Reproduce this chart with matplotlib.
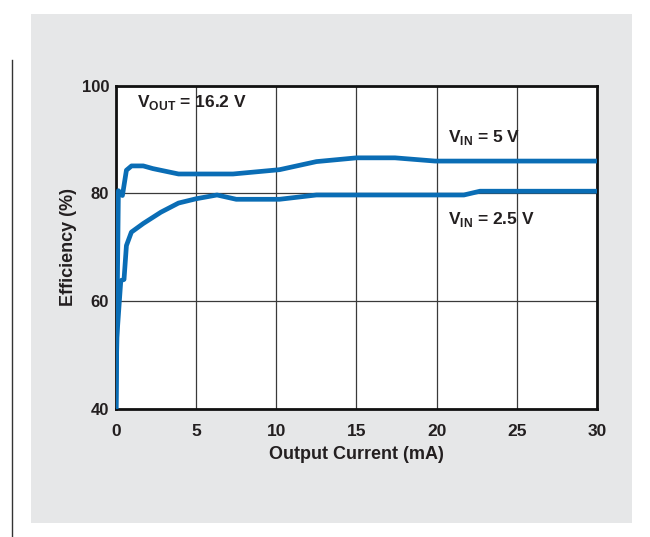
import matplotlib
matplotlib.use('Agg')
import matplotlib.pyplot as plt
from matplotlib import font_manager
from matplotlib.patches import Rectangle
from matplotlib.lines import Line2D

# data
current_5v = [0, 0.05, 0.15, 0.4, 0.65, 0.97, 1.7, 2.3, 3.9, 7.3, 10.2, 12.5, 15.0, 17.4, 19.9, 30]
eff_5v = [40, 53.2, 80.5, 79.6, 84.3, 85.1, 85.1, 84.6, 83.6, 83.6, 84.4, 85.9, 86.6, 86.6, 86.0, 86.0]

current_2v5 = [0, 0.05, 0.3, 0.5, 0.65, 0.96, 1.7, 2.8, 3.9, 5.0, 6.3, 7.5, 10.2, 12.5, 21.7, 22.7, 30]
eff_2v5 = [40, 53.2, 63.8, 64.0, 70.3, 72.8, 74.4, 76.5, 78.2, 79.0, 79.7, 78.9, 78.9, 79.7, 79.7, 80.4, 80.4]

xticks = [0, 5, 10, 15, 20, 25, 30]
yticks = [40, 60, 80, 100]

# pick a narrow bold face if one is around
names = {f.name for f in font_manager.fontManager.ttflist}
if 'Liberation Sans Narrow' in names:
    face = 'Liberation Sans Narrow'
elif 'DejaVu Sans Condensed' in names:
    face = 'DejaVu Sans Condensed'
else:
    face = 'Liberation Sans'
plt.rcParams['font.family'] = [face, 'DejaVu Sans']
plt.rcParams['mathtext.fontset'] = 'custom'
plt.rcParams['mathtext.rm'] = face + ':bold'
plt.rcParams['mathtext.bf'] = face + ':bold'

txt = '#231f20'
blue = '#0a6db5'

fig = plt.figure(figsize=(6.5, 5.37), dpi=100)
fig.patch.set_facecolor('white')

# grey panel and the thin rule at the left
fig.patches.append(Rectangle((31 / 650, 1 - 523 / 537), 601 / 650, 509 / 537,
                             transform=fig.transFigure, facecolor='#e6e7e8',
                             edgecolor='none', zorder=-10))
fig.lines.append(Line2D([11.5 / 650, 11.5 / 650], [0, 1 - 60 / 537],
                        transform=fig.transFigure, color='#333333', lw=1.0, zorder=-10))

ax = fig.add_axes([116 / 650, 1 - 408.7 / 537, 481 / 650, 323 / 537])
ax.set_facecolor('white')

ax.plot(current_5v, eff_5v, color=blue, lw=3.4, solid_joinstyle='round', zorder=3)
ax.plot(current_2v5, eff_2v5, color=blue, lw=3.4, solid_joinstyle='round', zorder=3)

ax.set_xlim(0, 30)
ax.set_ylim(40, 100)
ax.set_xticks(xticks)
ax.set_yticks(yticks)
ax.grid(True, color='#3a3a3a', lw=0.9)
ax.set_axisbelow(True)
ax.tick_params(axis='x', length=0, labelsize=12.5, colors=txt, pad=11)
ax.tick_params(axis='y', length=0, labelsize=12, colors=txt, pad=5)
for lab in ax.get_xticklabels() + ax.get_yticklabels():
    lab.set_fontweight('bold')
for s in ax.spines.values():
    s.set_linewidth(2)
    s.set_color('#111111')

ax.set_xlabel('Output Current (mA)', fontsize=13, fontweight='bold', color=txt, labelpad=5)
ax.set_ylabel('Efficiency (%)', fontsize=13, fontweight='bold', color=txt, labelpad=3)

ax.text(1.3, 96.8, r'$\mathbf{V}_{\mathbf{OUT}}$ = 16.2 V', fontsize=12.5, fontweight='bold',
        color=txt, ha='left', va='center')
ax.text(20.7, 90.4, r'$\mathbf{V}_{\mathbf{IN}}$ = 5 V', fontsize=12.5, fontweight='bold',
        color=txt, ha='left', va='center')
ax.text(20.7, 75.2, r'$\mathbf{V}_{\mathbf{IN}}$ = 2.5 V', fontsize=12.5, fontweight='bold',
        color=txt, ha='left', va='center')

fig.savefig('out.png', dpi=100)
